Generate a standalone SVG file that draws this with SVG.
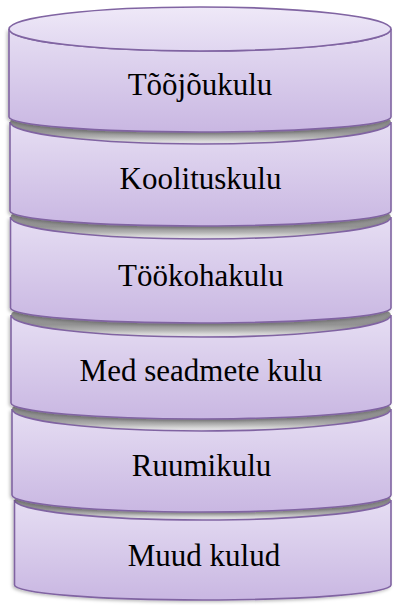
<svg xmlns="http://www.w3.org/2000/svg" width="394" height="605" viewBox="0 0 394 605">
<defs>
<linearGradient id="body" x1="0" y1="0" x2="0" y2="1">
<stop offset="0" stop-color="#e6def3"/>
<stop offset="1" stop-color="#c9b7e2"/>
</linearGradient>
<linearGradient id="topface" x1="0" y1="0" x2="0" y2="1">
<stop offset="0" stop-color="#efe9f8"/>
<stop offset="1" stop-color="#e0d6f0"/>
</linearGradient>
<linearGradient id="gap" x1="0" y1="0" x2="0" y2="1">
<stop offset="0" stop-color="#8a8a8a"/>
<stop offset="0.72" stop-color="#939393"/>
<stop offset="0.84" stop-color="#b0b0b0"/>
<stop offset="0.94" stop-color="#dcdcdc"/>
<stop offset="1" stop-color="#ebe5f4"/>
</linearGradient>
<filter id="sh" x="-5%" y="-10%" width="110%" height="130%">
<feDropShadow dx="-1.5" dy="1.5" stdDeviation="1.5" flood-color="#000" flood-opacity="0.25"/>
</filter>
</defs>
<style>
.b{fill:url(#body);stroke:#8064a2;stroke-width:1.6;filter:url(#sh)}
.tf{fill:url(#gap);stroke:none}
.t{font-family:"Liberation Serif","Times New Roman",serif;font-size:31px;fill:#000;text-anchor:middle}
</style>

<g id="seg6">
<ellipse class="tf" cx="202.75" cy="500" rx="188.25" ry="20"/>
<path class="b" d="M14.5,500 A188.25,20 0 0 0 391,500 L391,585 A188.25,15 0 0 1 14.5,585 Z"/>
<text class="t" x="204" y="566">Muud kulud</text>
</g>

<g id="seg5">
<ellipse class="tf" cx="201.5" cy="409" rx="189.5" ry="22"/>
<path class="b" d="M12,409 A189.5,22 0 0 0 391,409 L391,495 A189.5,17 0 0 1 12,495 Z"/>
<text class="t" x="201.5" y="476">Ruumikulu</text>
</g>

<g id="seg4">
<ellipse class="tf" cx="201" cy="315" rx="190" ry="22"/>
<path class="b" d="M11,315 A190,22 0 0 0 391,315 L391,403 A190,16 0 0 1 11,403 Z"/>
<text class="t" x="201" y="381">Med seadmete kulu</text>
</g>

<g id="seg3">
<ellipse class="tf" cx="200.75" cy="217" rx="190.25" ry="22"/>
<path class="b" d="M10.5,217 A190.25,22 0 0 0 391,217 L391,308 A190.25,15 0 0 1 10.5,308 Z"/>
<text class="t" x="200.75" y="286">Töökohakulu</text>
</g>

<g id="seg2">
<ellipse class="tf" cx="200.5" cy="122" rx="190.5" ry="22"/>
<path class="b" d="M10,122 A190.5,22 0 0 0 391,122 L391,211 A190.5,15 0 0 1 10,211 Z"/>
<text class="t" x="200.5" y="189">Koolituskulu</text>
</g>

<g id="seg1">
<path class="b" d="M9,29 A191,22 0 0 0 391,29 L391,117 A191,15 0 0 1 9,117 Z"/>
<ellipse cx="200" cy="29" rx="191" ry="22" fill="url(#topface)" stroke="#8064a2" stroke-width="1.6"/>
<text class="t" x="200" y="95">Tõõjõukulu</text>
</g>
</svg>
